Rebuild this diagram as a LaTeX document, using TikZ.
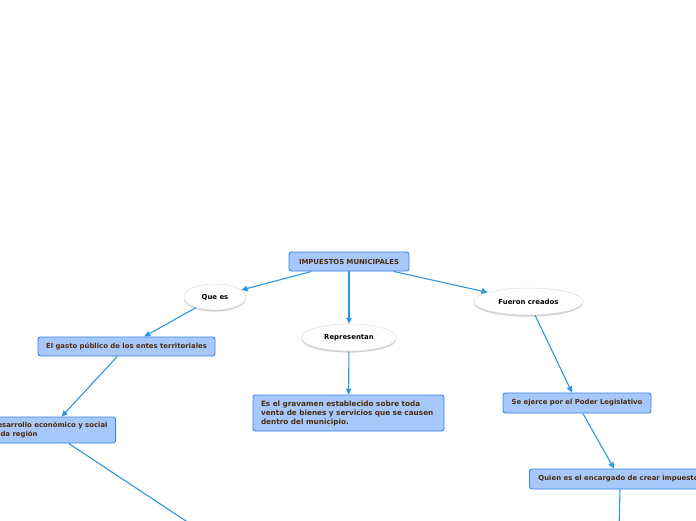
\documentclass[tikz,border=0pt]{standalone}
\usepackage{fontspec}
\setmainfont{DejaVu Sans}
\usetikzlibrary{arrows.meta,shapes.geometric,shadows}
\definecolor{boxfill}{RGB}{166,200,251}
\definecolor{boxline}{RGB}{58,128,230}
\definecolor{txt}{RGB}{78,44,14}
\definecolor{link}{RGB}{45,150,224}
\begin{document}
\begin{tikzpicture}[x=1pt,y=-1pt,
  box/.style={draw=boxline,fill=boxfill,line width=0.9pt,rounded corners=2.5pt,
    font=\bfseries\fontsize{6.9}{9.2}\selectfont,text=txt,inner xsep=8pt,inner ysep=0pt},
  oval/.style={ellipse,draw=gray!25,fill=white,line width=0.5pt,
    drop shadow={shadow xshift=0pt,shadow yshift=-1.6pt,fill=gray!45,opacity=0.8},
    font=\bfseries\fontsize{6.9}{8}\selectfont,text=black,inner sep=0pt},
  link/.style={draw=link,line width=1.1pt,-{Triangle[length=6pt,width=5.5pt]}},
  plain/.style={draw=link,line width=1.1pt}]
\useasboundingbox (0,0) rectangle (696,520);
\node[box,minimum width=120pt,minimum height=19pt] (imp) at (349,261.5) {IMPUESTOS MUNICIPALES};
\node[oval,minimum width=62pt,minimum height=26pt] (que) at (215,297) {Que es};
\node[oval,minimum width=95pt,minimum height=27pt] (rep) at (349,337.5) {Representan};
\node[oval,minimum width=109pt,minimum height=27pt] (fue) at (528.5,301.5) {Fueron creados};
\node[box,minimum width=177pt,minimum height=19pt] (gas) at (126.5,346.5) {El gasto público de los entes territoriales};
\node[box,anchor=east,align=left,minimum height=26pt] (des) at (116,430) {Desarrollo económico y social\\cada región};
\node[box,text width=175pt,align=left,minimum height=36pt,font=\bfseries\fontsize{7.3}{9}\selectfont] (grav) at (348.5,413) {Es el gravamen establecido sobre toda\\venta de bienes y servicios que se causen\\dentro del municipio.};
\node[box,minimum width=148pt,minimum height=20pt] (eje) at (577,403) {Se ejerce por el Poder Legislativo};
\node[box,anchor=west,inner xsep=9pt,minimum height=20pt] (qui) at (529,479) {Quien es el encargado de crear impuestos};
\coordinate (d2) at (195,527);
\coordinate (q2) at (619,530);
\draw[link] (imp) -- (que);
\draw[link] (imp) -- (rep);
\draw[link] (imp) -- (fue);
\draw[link] (que) -- (gas);
\draw[link] (rep) -- (grav);
\draw[link] (fue) -- (eje);
\draw[link] (gas) -- ([xshift=12pt]des.north);
\draw[plain] ([xshift=19pt]des.south) -- (d2);
\draw[link] (eje) -- (qui.north -| 614,0);
\draw[plain] (qui.south -| 620,0) -- (q2);
\end{tikzpicture}
\end{document}
